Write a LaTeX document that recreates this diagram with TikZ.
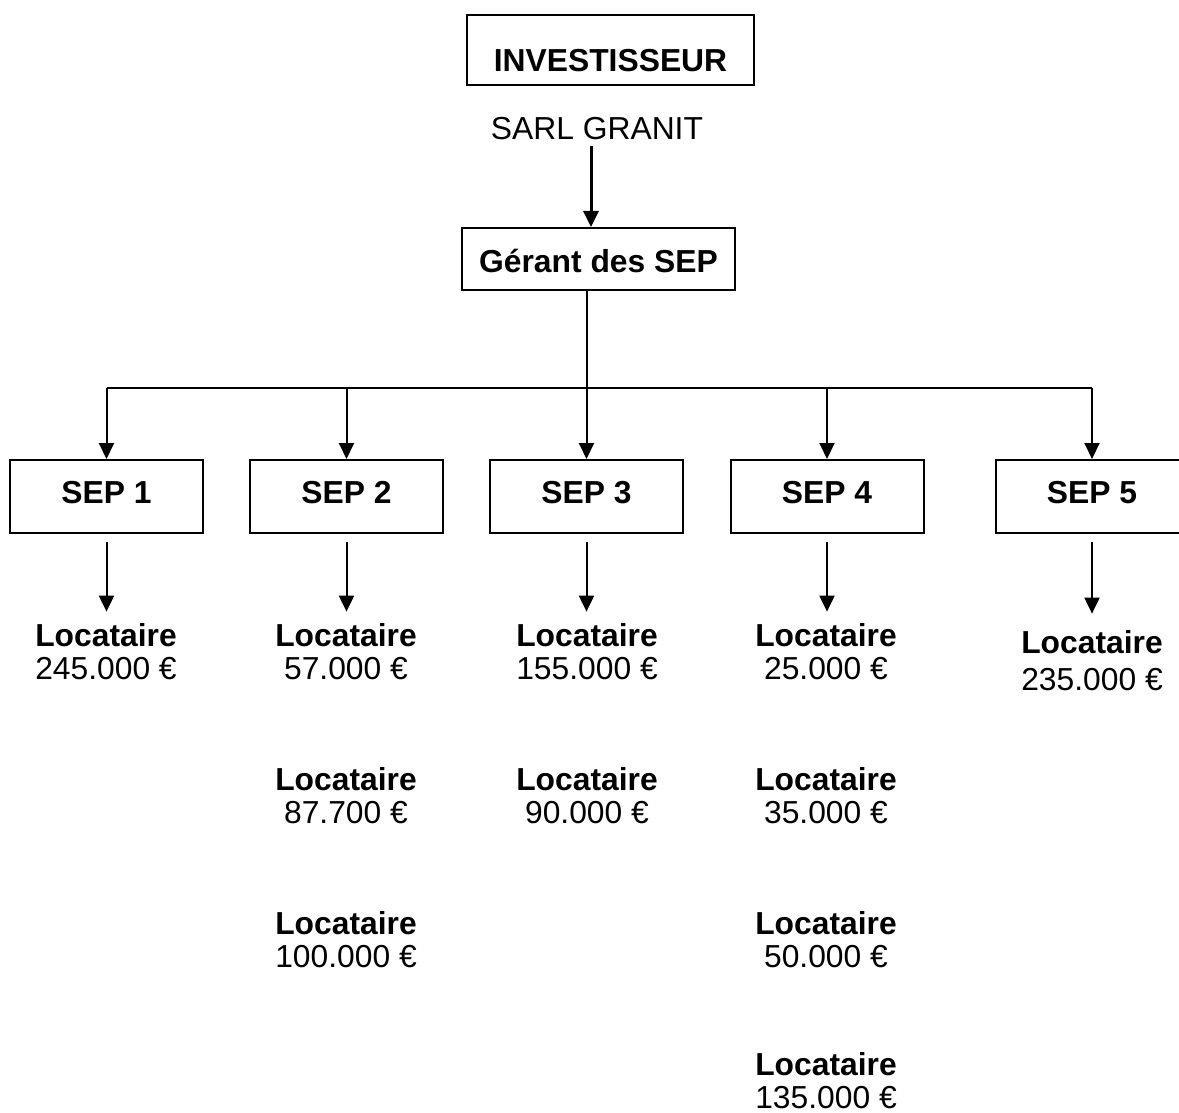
\documentclass[tikz,border=0pt]{standalone}
\usepackage{fontspec}
\setmainfont{Liberation Sans}
\usetikzlibrary{arrows.meta}
\begin{document}
\begin{tikzpicture}[x=1pt,y=-1pt,
  every node/.style={font=\fontsize{31.8}{33}\selectfont},
  box/.style={draw,line width=2pt,inner sep=0pt,font=\fontsize{31.8}{33}\selectfont\bfseries},
  tip/.style={-{Triangle[length=16pt,width=15pt]}},
  arr/.style={line width=2pt,tip},
  loc/.style={align=center,inner sep=0pt}]
\useasboundingbox (0,0) rectangle (1179,1113);
\node[box,minimum width=287pt,minimum height=70pt,text height=44pt,text depth=0pt] (inv) at (610.5,50) {INVESTISSEUR};
\node[inner sep=0pt] (sarl) at (597,129) {SARL GRANIT};
\node[box,minimum width=273pt,minimum height=62pt,text height=30pt,text depth=4pt] (ger) at (598.5,259) {Gérant des SEP};
\coordinate (bus) at (587,388);
\foreach \i/\x in {1/106.5,2/346.5,3/586.5,4/827,5/1092}{
  \node[box,minimum width=193pt,minimum height=73pt,text height=22pt,text depth=9pt] (sep\i) at (\x,496.5) {SEP \i};
}
\draw[line width=3pt,tip,shorten <=6pt] ([xshift=-6pt]sarl.south) -- ([xshift=-7.5pt]ger.north);
\draw[line width=2pt] (ger.south -| bus) -- (bus);
\draw[line width=2pt] (sep1.north |- bus) -- (sep5.north |- bus);
\foreach \i in {1,...,5}{\draw[arr] (sep\i.north |- bus) -- (sep\i.north);}
% Locataires
\node[loc] (l1a) at (106,652) {\textbf{Locataire}\\245.000 €};
\node[loc] (l2a) at (346,652) {\textbf{Locataire}\\57.000 €};
\node[loc] (l2b) at (346,796) {\textbf{Locataire}\\87.700 €};
\node[loc] (l2c) at (346,940) {\textbf{Locataire}\\100.000 €};
\node[loc] (l3a) at (587,652) {\textbf{Locataire}\\155.000 €};
\node[loc] (l3b) at (587,796) {\textbf{Locataire}\\90.000 €};
\node[loc] (l4a) at (826,652) {\textbf{Locataire}\\25.000 €};
\node[loc] (l4b) at (826,796) {\textbf{Locataire}\\35.000 €};
\node[loc] (l4c) at (826,940) {\textbf{Locataire}\\50.000 €};
\node[loc] (l4d) at (826,1081) {\textbf{Locataire}\\135.000 €};
\node[loc,font=\fontsize{31.8}{37}\selectfont] (l5a) at (1092,661) {\textbf{Locataire}\\235.000 €};
\foreach \s/\l/\e in {1/l1a/12,2/l2a/12,3/l3a/12,4/l4a/12,5/l5a/17}{
  \draw[arr,shorten <=8pt,shorten >=\e pt] (sep\s.south) -- (sep\s.south |- \l.north);
}
\end{tikzpicture}
\end{document}
